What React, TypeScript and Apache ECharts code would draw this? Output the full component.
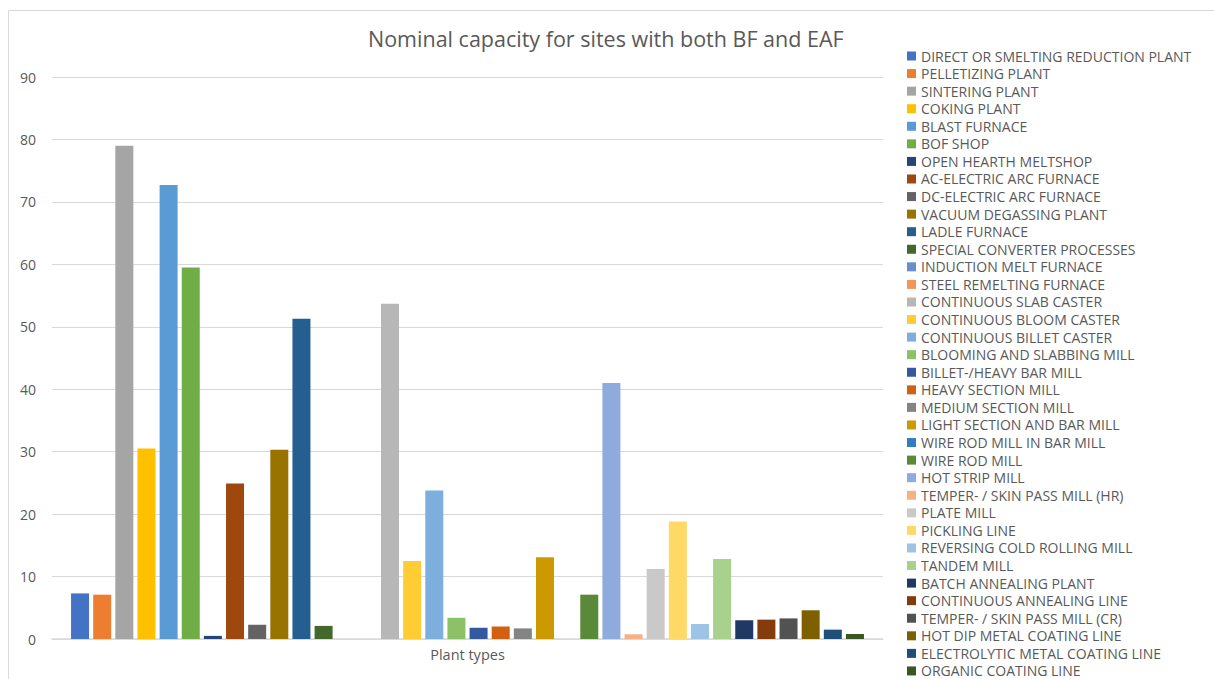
import React, { useEffect, useRef } from "react";
import * as echarts from "echarts";

const categories = ["Plant types"];

const seriesNames = [
  "DIRECT OR SMELTING REDUCTION PLANT",
  "PELLETIZING PLANT",
  "SINTERING PLANT",
  "COKING PLANT",
  "BLAST FURNACE",
  "BOF SHOP",
  "OPEN HEARTH MELTSHOP",
  "AC-ELECTRIC ARC FURNACE",
  "DC-ELECTRIC ARC FURNACE",
  "VACUUM DEGASSING PLANT",
  "LADLE FURNACE",
  "SPECIAL CONVERTER PROCESSES",
  "INDUCTION MELT FURNACE",
  "STEEL REMELTING FURNACE",
  "CONTINUOUS SLAB CASTER",
  "CONTINUOUS BLOOM CASTER",
  "CONTINUOUS BILLET CASTER",
  "BLOOMING AND SLABBING MILL",
  "BILLET-/HEAVY BAR MILL",
  "HEAVY SECTION MILL",
  "MEDIUM SECTION MILL",
  "LIGHT SECTION AND BAR MILL",
  "WIRE ROD MILL IN BAR MILL",
  "WIRE ROD MILL",
  "HOT STRIP MILL",
  "TEMPER- / SKIN PASS MILL (HR)",
  "PLATE MILL",
  "PICKLING LINE",
  "REVERSING COLD ROLLING MILL",
  "TANDEM MILL",
  "BATCH ANNEALING PLANT",
  "CONTINUOUS ANNEALING LINE",
  "TEMPER- / SKIN PASS MILL (CR)",
  "HOT DIP METAL COATING LINE",
  "ELECTROLYTIC METAL COATING LINE",
  "ORGANIC COATING LINE",
];

const seriesValues = [
  7.3, 7.1, 79.0, 30.5, 72.7, 59.5, 0.5, 24.9, 2.3, 30.3, 51.3, 2.1,
  0, 0, 53.7, 12.5, 23.8, 3.4, 1.8, 2.0, 1.7, 13.1,
  0, 7.1, 41.0, 0.75, 11.2, 18.8, 2.4, 12.8, 3.0, 3.1, 3.3, 4.6, 1.5, 0.8,
];

const seriesColors = [
  "#4472C4", "#ED7D31", "#A5A5A5", "#FFC000", "#5B9BD5", "#70AD47",
  "#264478", "#9E480E", "#636363", "#997300", "#255E91", "#43682B",
  "#698ED0", "#F1975A", "#B7B7B7", "#FFCD33", "#7CAFDD", "#8CC168",
  "#335AA1", "#D26012", "#848484", "#CC9A00", "#327DC2", "#5A8A39",
  "#8FAADC", "#F4B183", "#C9C9C9", "#FFD966", "#9DC3E6", "#A9D18E",
  "#203864", "#843C0C", "#525252", "#7F6000", "#1F4E79", "#385723",
];

const titleText = "Nominal capacity for sites with both BF and EAF";

export default function App() {
  const ref = useRef<HTMLDivElement>(null);
  useEffect(() => {
    if (!ref.current) return;
    const chart = echarts.init(ref.current, undefined, { renderer: "svg" });
    const font = "'Open Sans', 'Noto Sans', sans-serif";
    chart.setOption({
      animation: false,
      backgroundColor: "#ffffff",
      textStyle: { fontFamily: font },
      title: {
        text: titleText,
        left: 368,
        top: 27,
        padding: 0,
        textStyle: { fontFamily: font, fontSize: 21.5, fontWeight: "normal", color: "#595959" },
      },
      graphic: [
        {
          type: "rect",
          shape: { x: 8.5, y: 10.5, width: 1300, height: 700 },
          style: { fill: "none", stroke: "#d9d9d9", lineWidth: 1 },
          silent: true,
        },
      ],
      legend: {
        orient: "vertical",
        left: 907,
        top: 49,
        bottom: 0,
        padding: 0,
        itemWidth: 9,
        itemHeight: 9,
        itemGap: 3.57,
        icon: "rect",
        textStyle: { fontFamily: font, fontSize: 14, color: "#595959", lineHeight: 14 },
        data: seriesNames,
      },
      grid: { left: 52, right: 331, top: 77, bottom: 40, containLabel: false },
      xAxis: {
        type: "category",
        data: categories,
        axisLine: { lineStyle: { color: "#d9d9d9", width: 1.5 } },
        axisTick: { show: false },
        axisLabel: { color: "#595959", fontSize: 14.5, margin: 8, fontFamily: font },
      },
      yAxis: {
        type: "value",
        min: 0,
        max: 90,
        interval: 10,
        axisLine: { show: false },
        axisTick: { show: false },
        axisLabel: { color: "#595959", fontSize: 14, margin: 16, fontFamily: font },
        splitLine: { lineStyle: { color: "#d9d9d9", width: 1.2 } },
      },
      series: seriesNames.map((name, i) => ({
        name,
        type: "bar",
        data: [seriesValues[i]],
        barWidth: 18,
        barGap: "23%",
        itemStyle: { color: seriesColors[i] },
      })),
    });
    return () => chart.dispose();
  }, []);
  return (
    <div
      ref={ref}
      style={{ position: "fixed", left: 0, top: 0, width: 1214, height: 679 }}
    />
  );
}
